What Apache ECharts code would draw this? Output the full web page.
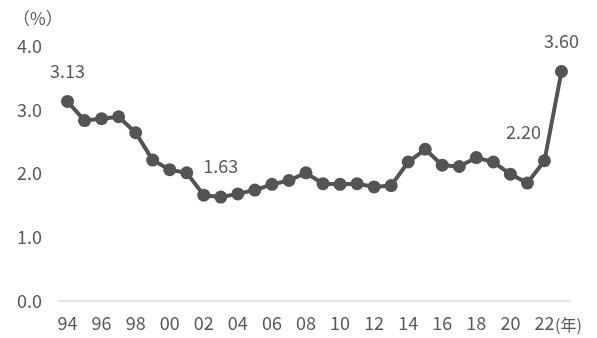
<!DOCTYPE html>
<html>
<head>
<meta charset="utf-8">
<script src="https://cdn.jsdelivr.net/npm/echarts@6/dist/echarts.min.js"></script>
<style>
html,body{margin:0;padding:0;background:#fff;}
#c{width:597px;height:338px;}
</style>
</head>
<body>
<div id="c"></div>
<script>
const years = ['94','95','96','97','98','99','00','01','02','03','04','05','06','07','08','09','10','11','12','13','14','15','16','17','18','19','20','21','22','23'];
const values = [3.13,2.83,2.86,2.89,2.64,2.21,2.06,2.01,1.66,1.63,1.68,1.74,1.83,1.89,2.01,1.84,1.83,1.84,1.79,1.81,2.18,2.38,2.13,2.11,2.25,2.18,1.99,1.85,2.20,3.60];
const labeledIdx = [0, 9, 28, 29];
const yTicks = [0, 1, 2, 3, 4];

const FONT = '"Noto Sans CJK JP", sans-serif';
const TXT = '#595959';

function labelFor(i, v) {
  const base = {
    show: true,
    formatter: v.toFixed(2),
    color: TXT,
    fontSize: 18,
    fontFamily: FONT
  };
  if (i === 28) {
    return Object.assign(base, {position: [-14.5, -22.5], align: 'center', verticalAlign: 'middle'});
  }
  return Object.assign(base, {position: 'top', distance: 15});
}

const data = values.map((v, i) => {
  if (labeledIdx.indexOf(i) >= 0) {
    return {value: v, label: labelFor(i, v)};
  }
  return v;
});

const chart = echarts.init(document.getElementById('c'), null, {renderer: 'canvas'});
chart.setOption({
  animation: false,
  backgroundColor: '#fff',
  grid: {left: 59, right: 27, top: 46, bottom: 37, containLabel: false},
  xAxis: {
    type: 'category',
    data: years,
    boundaryGap: true,
    axisLine: {lineStyle: {color: '#d9d9d9', width: 1.5}},
    axisTick: {show: false},
    axisLabel: {interval: 1, color: TXT, fontSize: 18, fontFamily: FONT, margin: 13}
  },
  yAxis: {
    type: 'value',
    min: yTicks[0],
    max: yTicks[yTicks.length - 1],
    interval: 1,
    axisLine: {show: false},
    axisTick: {show: false},
    splitLine: {show: false},
    axisLabel: {color: TXT, fontSize: 18, fontFamily: FONT, margin: 17, formatter: v => v.toFixed(1)}
  },
  series: [{
    type: 'line',
    data: data,
    symbol: 'circle',
    symbolSize: 13,
    showSymbol: true,
    showAllSymbol: true,
    labelLayout: {hideOverlap: false},
    lineStyle: {color: '#545454', width: 4},
    itemStyle: {color: '#545454'}
  }],
  graphic: [
    {type: 'text', left: 13, top: 10, style: {text: '（%）', fill: TXT, fontSize: 17, fontFamily: FONT}},
    {type: 'text', left: 555, top: 317, style: {text: '(年)', fill: TXT, fontSize: 16, fontFamily: FONT}}
  ]
});
</script>
</body>
</html>
